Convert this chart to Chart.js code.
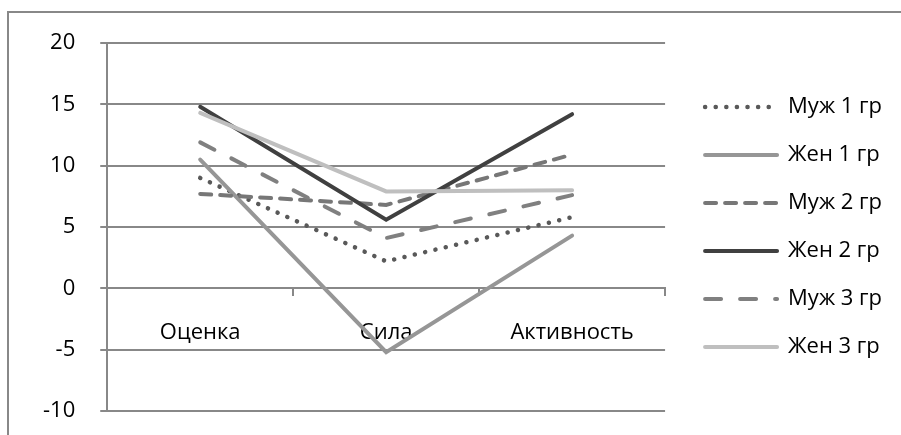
<!DOCTYPE html>
<html>
<head>
<meta charset="utf-8">
<script src="https://cdn.jsdelivr.net/npm/chart.js@4.4.1/dist/chart.umd.min.js"></script>
<style>
    html, body { margin: 0; padding: 0; background: #fff; overflow: hidden; }
    #frame {
        position: absolute; left: 7px; top: 11px; width: 2000px; height: 2000px;
        border-left: 2px solid #888; border-top: 2px solid #888;
    }
    #wrap { position: absolute; left: 0; top: 0; width: 901px; height: 435px; }
</style>
</head>
<body>
<div id="frame"></div>
<div id="wrap"><canvas id="lineChart"></canvas></div>
<script>
const categories = ["Оценка", "Сила", "Активность"];
const yTicks = [-10, -5, 0, 5, 10, 15, 20];

const muzh1 = [9.0, 2.2, 5.8];
const zhen1 = [10.5, -5.2, 4.3];
const muzh2 = [7.7, 6.8, 10.9];
const zhen2 = [14.8, 5.6, 14.2];
const muzh3 = [11.9, 4.1, 7.6];
const zhen3 = [14.3, 7.9, 8.0];

const seriesNames = ["Муж 1 гр", "Жен 1 гр", "Муж 2 гр", "Жен 2 гр", "Муж 3 гр", "Жен 3 гр"];

document.addEventListener("DOMContentLoaded", function () {
    const font = { family: "'Open Sans', sans-serif", size: 22 };
    const gridColor = "#888";

    function line(i, data, color, dash, width) {
        return {
            label: seriesNames[i],
            data: data,
            borderColor: color,
            backgroundColor: color,
            borderWidth: width || 4,
            borderDash: dash,
            borderCapStyle: "round",
            pointRadius: 0,
            tension: 0,
            fill: false,
            order: 5 - i,
        };
    }

    new Chart(document.getElementById("lineChart").getContext("2d"), {
        type: "line",
        data: {
            labels: categories,
            datasets: [
                line(0, muzh1, "#595959", [0.1, 10.5], 4.5),
                line(1, zhen1, "#969696", []),
                line(2, muzh2, "#777777", [11, 9]),
                line(3, zhen2, "#404040", []),
                line(4, muzh3, "#808080", [16, 19]),
                line(5, zhen3, "#bfbfbf", []),
            ],
        },
        options: {
            responsive: true,
            maintainAspectRatio: false,
            animation: false,
            layout: { padding: { left: 18, right: 9, top: 43, bottom: 24 } },
            plugins: {
                tooltip: { enabled: false },
                legend: {
                    position: "right",
                    align: "center",
                    maxWidth: 300,
                    labels: {
                        font: font,
                        color: "#000",
                        usePointStyle: true,
                        pointStyle: "line",
                        pointStyleWidth: 72,
                        padding: 26,
                        sort: (a, b) => a.datasetIndex - b.datasetIndex,
                        generateLabels: (chart) => {
                            const items = Chart.defaults.plugins.legend.labels.generateLabels(chart);
                            return items.map((it) => {
                                const ds = chart.data.datasets[it.datasetIndex];
                                it.lineDash = ds.borderDash;
                                it.lineWidth = ds.borderWidth;
                                it.lineCap = ds.borderCapStyle;
                                it.strokeStyle = ds.borderColor;
                                return it;
                            });
                        },
                    },
                },
            },
            scales: {
                x: {
                    position: { y: 0 },
                    offset: true,
                    grid: {
                        offset: true,
                        drawOnChartArea: false,
                        drawTicks: true,
                        tickLength: 7,
                        color: gridColor,
                        lineWidth: 2,
                    },
                    border: { display: true, color: gridColor, width: 2 },
                    ticks: { font: font, color: "#000", padding: 24, maxRotation: 0 },
                },
                y: {
                    min: yTicks[0],
                    max: yTicks[yTicks.length - 1],
                    afterBuildTicks: (axis) => {
                        axis.ticks = yTicks.map((v) => ({ value: v }));
                    },
                    afterFit: (axis) => {
                        // let the layout padding alone decide top and bottom
                        axis.paddingTop = 0;
                        axis.paddingBottom = 0;
                    },
                    grid: { color: gridColor, lineWidth: 2, tickLength: 7 },
                    border: { display: true, color: gridColor, width: 2 },
                    ticks: { font: font, color: "#000", padding: 25 },
                },
                // empty spacer between plot and legend
                gap: {
                    axis: "y",
                    position: "right",
                    display: true,
                    grid: { display: false },
                    border: { display: false },
                    ticks: { display: false },
                    afterFit: (axis) => {
                        axis.width = 14;
                    },
                },
            },
        },
    });
});
</script>
</body>
</html>
